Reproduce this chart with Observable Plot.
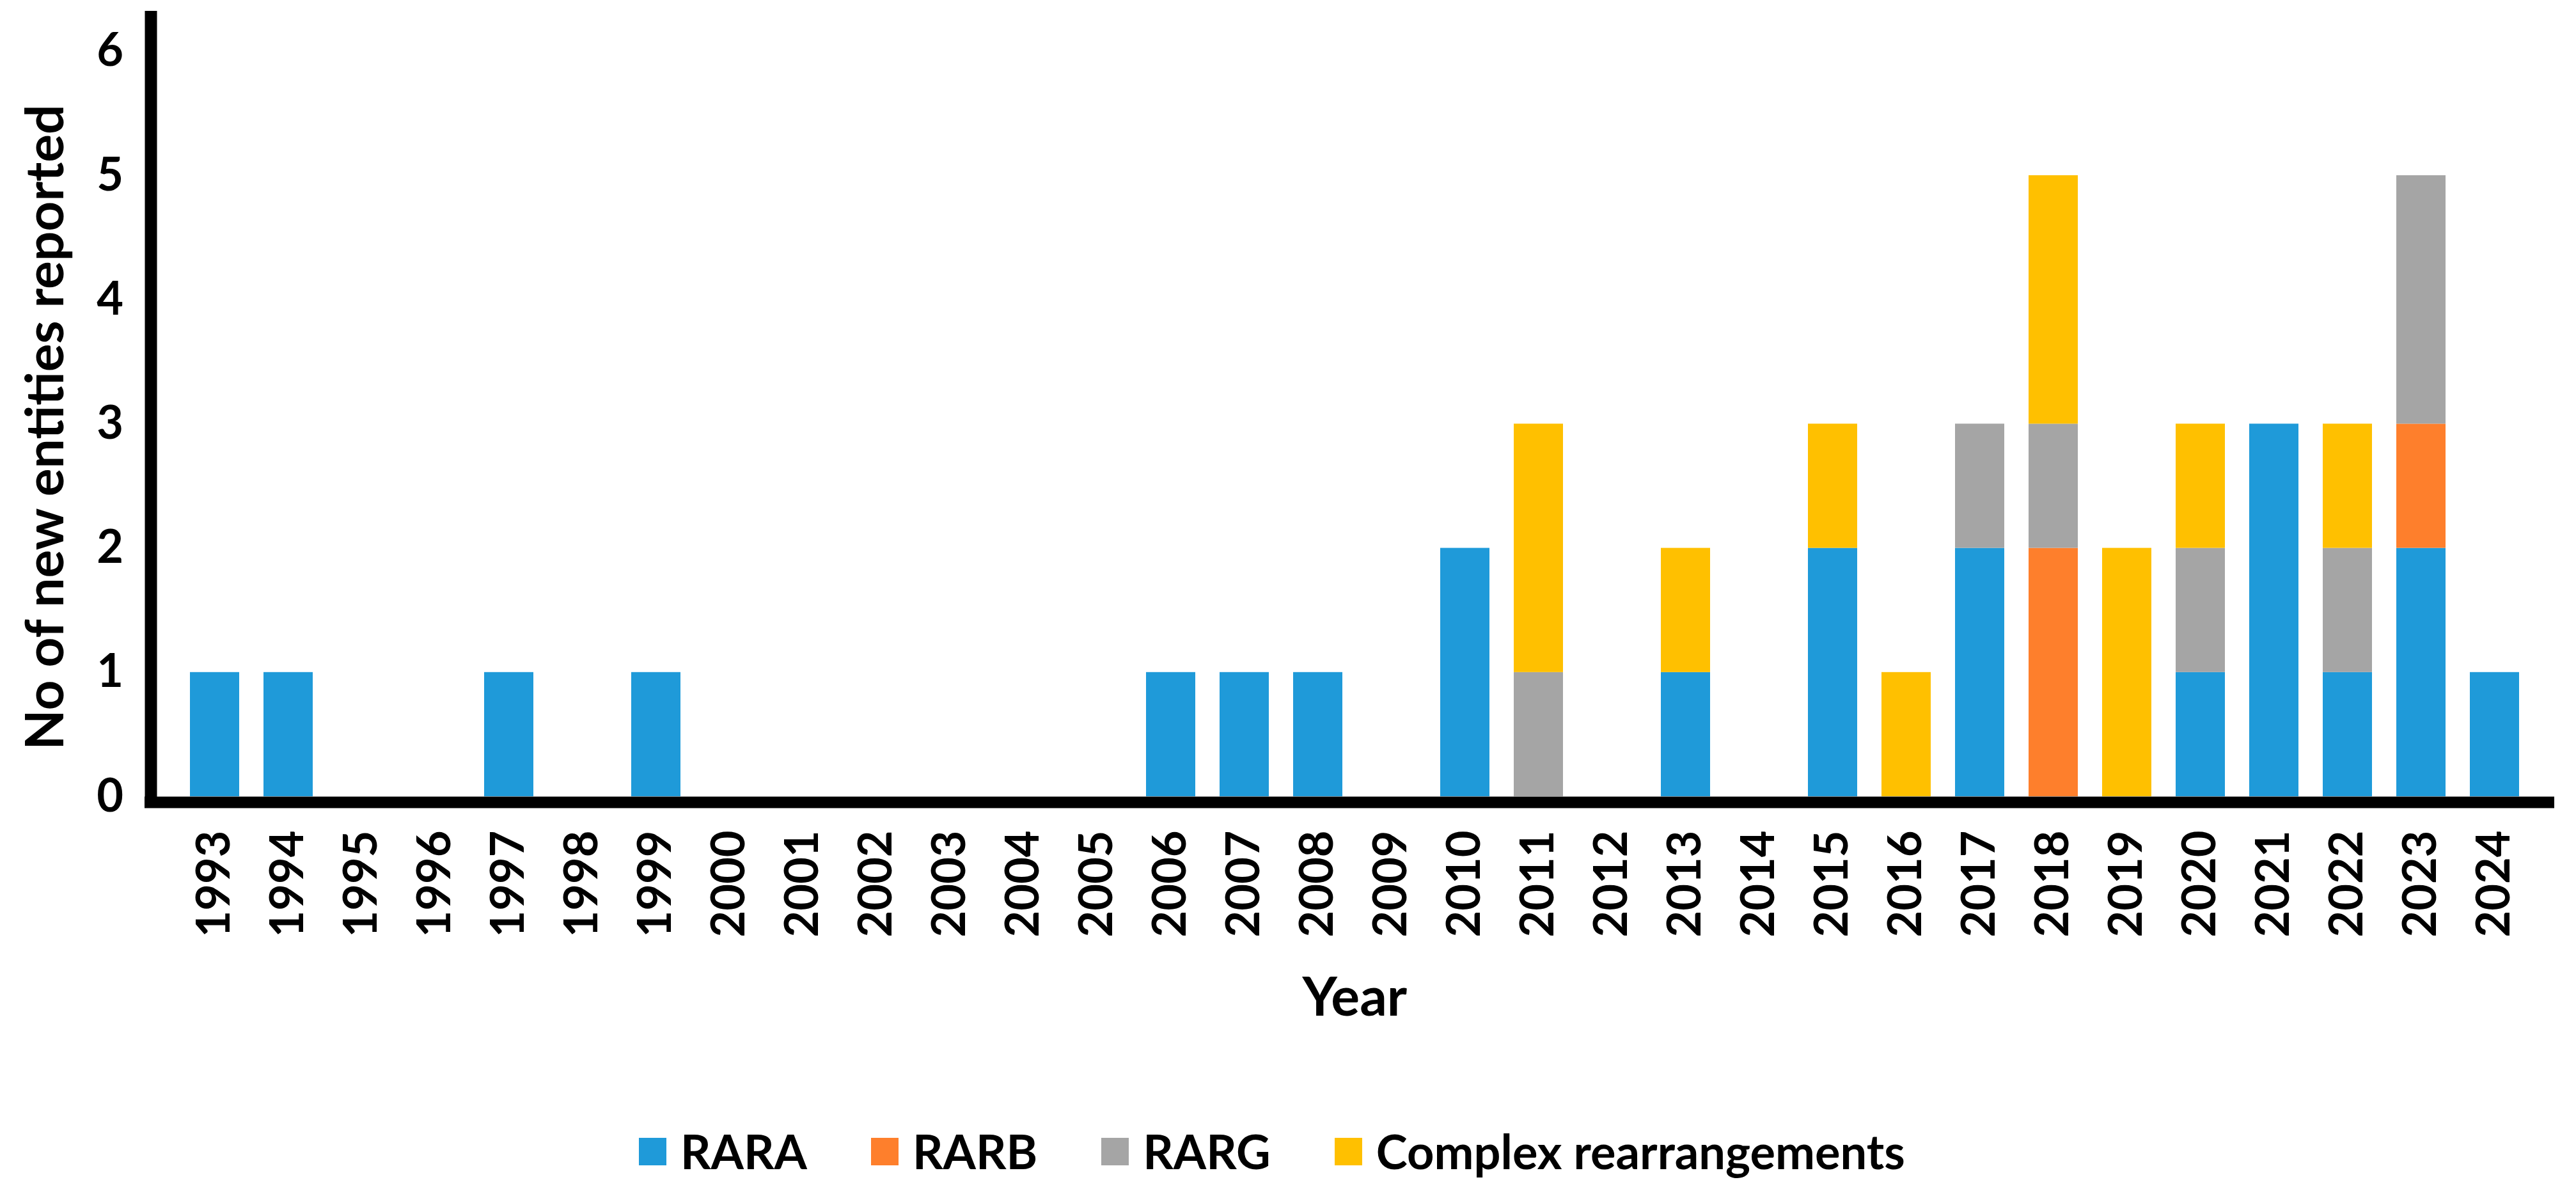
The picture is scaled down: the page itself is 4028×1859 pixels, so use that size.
<!DOCTYPE html>
<html>
<head>
<meta charset="utf-8">
<script src="https://cdn.jsdelivr.net/npm/d3@7"></script>
<script src="https://cdn.jsdelivr.net/npm/@observablehq/plot@0.6"></script>
<style>
  html, body { margin: 0; padding: 0; background: #fff; }
  body { width: 4028px; height: 1859px; overflow: hidden; font-family: Lato, "Open Sans", sans-serif; }
  #legend { display: flex; align-items: center; height: 80px; margin-top: 110px; padding-left: 999px;
            font-family: Lato, sans-serif; font-weight: 700; font-size: 74px; line-height: 80px; color: #000; }
  .item { display: flex; align-items: center; margin-right: 100px; }
  .sw { width: 43px; height: 43px; margin-right: 22px; }
</style>
</head>
<body>
<div id="chart"></div>
<div id="legend"></div>
<script>
const years = ["1993","1994","1995","1996","1997","1998","1999","2000","2001","2002","2003","2004","2005","2006","2007","2008","2009","2010","2011","2012","2013","2014","2015","2016","2017","2018","2019","2020","2021","2022","2023","2024"];
const series = ["RARA", "RARB", "RARG", "Complex rearrangements"];
const colors = ["#1F9AD9", "#FE7F2C", "#A5A5A5", "#FFC000"];
const rara    = [1,1,0,0,1,0,1,0,0,0,0,0,0,1,1,1,0,2,0,0,1,0,2,0,2,0,0,1,3,1,2,1];
const rarb    = [0,0,0,0,0,0,0,0,0,0,0,0,0,0,0,0,0,0,0,0,0,0,0,0,0,2,0,0,0,0,1,0];
const rarg    = [0,0,0,0,0,0,0,0,0,0,0,0,0,0,0,0,0,0,1,0,0,0,0,0,1,1,0,1,0,1,2,0];
const complex = [0,0,0,0,0,0,0,0,0,0,0,0,0,0,0,0,0,0,2,0,1,0,1,1,0,2,2,1,0,1,0,0];
const yTicks = [0, 1, 2, 3, 4, 5, 6];
const yTitle = "No of new entities reported";
const xTitle = "Year";

const valuesBySeries = [rara, rarb, rarg, complex];
const table = years.flatMap((year, i) =>
  series.map((s, j) => ({year, series: s, value: valuesBySeries[j][i]}))
);

const W = 4028, H = 1650;
const chart = Plot.plot({
  width: W,
  height: H,
  marginTop: 26,
  marginBottom: 405,
  marginLeft: 235.5,
  marginRight: 34,
  style: {fontFamily: "Lato, sans-serif", fontWeight: "700", color: "#000", background: "#fff"},
  x: {type: "band", domain: years, paddingInner: 0.33, paddingOuter: 0.165, insetLeft: 31.5, insetRight: 25},
  y: {domain: [0, 6.277]},
  color: {domain: series, range: colors},
  marks: [
    Plot.barY(table, {x: "year", y: "value", fill: "series"}),
    Plot.frame({anchor: "left", stroke: "#000", strokeWidth: 19}),
    Plot.ruleY([0], {stroke: "#000", strokeWidth: 18, dy: 9, insetLeft: -9.5}),
    Plot.axisY({ticks: yTicks, tickSize: 0, tickPadding: 43, tickFormat: d => String(d), fontSize: 72, label: null}),
    Plot.axisX({tickSize: 0, tickPadding: 53, tickRotate: -90, fontSize: 72, label: null}),
    Plot.text([yTitle], {frameAnchor: "left", textAnchor: "middle", lineAnchor: "middle", rotate: -90, dx: -163.5, dy: 32, fontSize: 82, fontWeight: "700", fill: "#000"}),
    Plot.text([xTitle], {frameAnchor: "bottom", textAnchor: "middle", lineAnchor: "middle", dx: 3, dy: 316, fontSize: 84, fontWeight: "700", fill: "#000"})
  ]
});
document.getElementById("chart").appendChild(chart);

const legend = document.getElementById("legend");
series.forEach((s, i) => {
  const item = document.createElement("div");
  item.className = "item";
  const sw = document.createElement("div");
  sw.className = "sw";
  sw.style.background = colors[i];
  const label = document.createElement("span");
  label.textContent = s;
  item.appendChild(sw);
  item.appendChild(label);
  legend.appendChild(item);
});
</script>
</body>
</html>
